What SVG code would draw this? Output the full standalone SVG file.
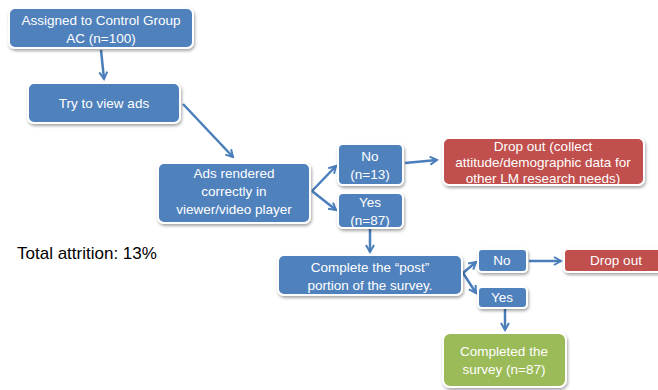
<svg xmlns="http://www.w3.org/2000/svg" width="658" height="390" viewBox="0 0 658 390">
<defs>
<filter id="sh" x="-10%" y="-20%" width="130%" height="150%">
<feDropShadow dx="1" dy="2" stdDeviation="1.5" flood-color="#000" flood-opacity="0.35"/>
</filter>
<marker id="ah" viewBox="0 0 10 10" refX="8" refY="5" markerWidth="4" markerHeight="4" orient="auto" markerUnits="strokeWidth">
<path d="M1,1 L8,5 L1,9" fill="none" stroke="#4A7EBB" stroke-width="2"/>
</marker>
<style>
.b{fill:#4F81BD;stroke:#fff;stroke-width:2;filter:url(#sh)}
.r{fill:#C0504D;stroke:#fff;stroke-width:2;filter:url(#sh)}
.g{fill:#9BBB59;stroke:#fff;stroke-width:2;filter:url(#sh)}
.t{font-family:"Liberation Sans",Arial,sans-serif;font-size:13.5px;fill:#fff;text-anchor:middle}
.c{fill:none;stroke:#4A7EBB;stroke-width:2.5;marker-end:url(#ah)}
</style>
</defs>
<rect width="658" height="390" fill="#fff"/>
<g id="connectors">
<path class="c" d="M101,50 L104,79"/>
<path class="c" d="M183,104 L233,157"/>
<path class="c" d="M312,191 L336,166"/>
<path class="c" d="M312,191 L336,210"/>
<path class="c" d="M405,163 L437,160"/>
<path class="c" d="M370,229 L370,252"/>
<path class="c" d="M463,273 L476,262"/>
<path class="c" d="M463,273 L476,293"/>
<path class="c" d="M529,261 L561,261"/>
<path class="c" d="M505,309 L505,330"/>
</g>
<g id="n1"><rect class="b" x="9" y="8" width="184" height="40" rx="6"/>
<text class="t" x="101" y="25">Assigned to Control Group</text>
<text class="t" x="101" y="43">AC (n=100)</text></g>
<g id="n2"><rect class="b" x="28" y="83" width="152" height="40" rx="6"/>
<text class="t" x="104" y="108">Try to view ads</text></g>
<g id="n3"><rect class="b" x="158" y="163" width="152" height="60" rx="6"/>
<text class="t" x="234" y="178">Ads rendered</text>
<text class="t" x="234" y="196">correctly in</text>
<text class="t" x="234" y="214">viewer/video player</text></g>
<g id="n4"><rect class="b" x="338" y="144" width="65" height="41" rx="5"/>
<text class="t" x="370" y="161">No</text>
<text class="t" x="370" y="179">(n=13)</text></g>
<g id="n5"><rect class="b" x="338" y="193" width="65" height="35" rx="5"/>
<text class="t" x="370" y="207">Yes</text>
<text class="t" x="370" y="225">(n=87)</text></g>
<g id="n6"><rect class="r" x="443" y="138" width="201" height="47" rx="6"/>
<text class="t" x="543" y="151">Drop out (collect</text>
<text class="t" x="543" y="167">attitude/demographic data for</text>
<text class="t" x="543" y="183">other LM research needs)</text></g>
<g id="n7"><rect class="b" x="278" y="255" width="184" height="40" rx="6"/>
<text class="t" x="370" y="272">Complete the “post”</text>
<text class="t" x="370" y="290">portion of the survey.</text></g>
<g id="n8"><rect class="b" x="478" y="249" width="49" height="23" rx="4"/>
<text class="t" x="502" y="265">No</text></g>
<g id="n9"><rect class="b" x="478" y="287" width="49" height="21" rx="4"/>
<text class="t" x="502" y="302">Yes</text></g>
<g id="n10"><rect class="r" x="564" y="249" width="100" height="23" rx="4"/>
<text class="t" x="616" y="265">Drop out</text></g>
<g id="n11"><rect class="g" x="443" y="333" width="123" height="54" rx="7"/>
<text class="t" x="504" y="356">Completed the</text>
<text class="t" x="504" y="374">survey (n=87)</text></g>
<text id="attr" x="17" y="259" font-family="Liberation Sans,Arial,sans-serif" font-size="17" fill="#000">Total attrition: 13%</text>
</svg>
